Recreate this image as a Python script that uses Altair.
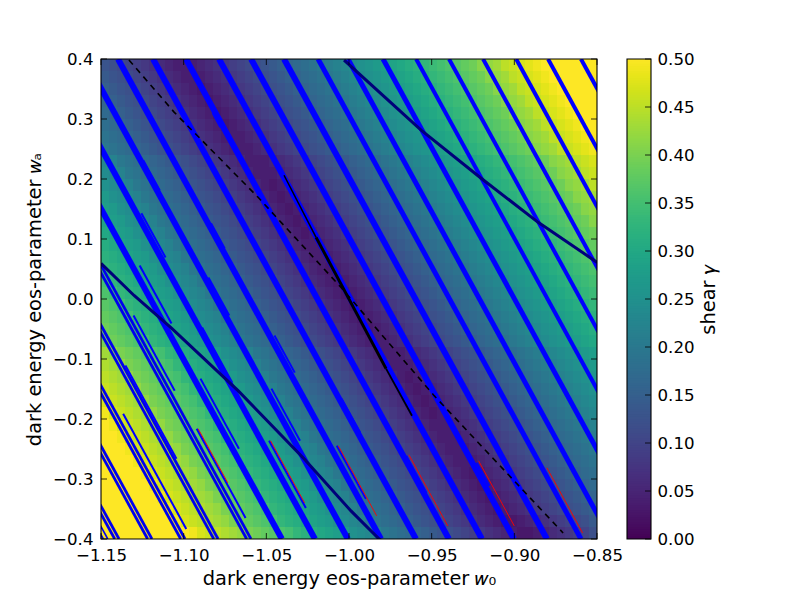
import altair as alt
import numpy as np
import pandas as pd

# shear in hundredths, top row (wa = 0.4) first
shear_rows = [
[13,12,11,10,9,8,7,6,5,4,4,4,5,6,7,8,9,10,11,12,13,14,15,16,17,18,19,20,21,22,23,24,25,26,27,28,29,30,31,32,33,34,35,36,37,38,39,41,42,43,45,46,47,48,49,50,51,52,53,54,55,56],
[14,13,12,11,10,9,8,7,6,5,4,4,4,5,6,7,8,9,10,11,12,13,14,15,16,17,18,19,20,21,22,23,24,25,26,27,28,29,30,31,32,33,34,35,36,37,38,39,41,42,43,45,46,47,48,49,50,51,52,53,54,55],
[15,14,13,12,11,10,9,8,7,6,5,4,3,4,5,6,7,8,9,10,11,12,13,14,15,16,17,18,19,20,21,22,23,24,25,26,27,28,29,30,31,32,33,34,35,36,37,38,39,41,42,43,45,46,47,48,49,50,51,52,53,54],
[16,15,14,13,12,11,10,9,8,7,6,5,4,3,4,5,6,7,8,9,10,11,12,13,14,15,16,17,18,19,20,21,22,23,24,25,26,27,28,29,30,31,32,33,34,35,36,37,38,39,41,42,43,45,46,47,48,49,50,51,52,53],
[17,16,15,14,13,12,11,10,9,8,7,6,5,4,3,4,5,6,7,8,9,10,11,12,13,14,15,16,17,18,19,20,21,22,23,24,25,26,27,28,29,30,31,32,33,34,35,36,37,38,39,41,42,43,45,46,47,48,49,50,51,52],
[18,17,16,15,14,13,12,11,10,9,8,7,6,5,4,3,4,5,6,7,8,9,10,11,12,13,14,15,16,17,18,19,20,21,22,23,24,25,26,27,28,29,30,31,32,33,34,35,36,37,38,39,41,42,43,45,46,47,48,49,50,51],
[19,18,17,16,15,14,13,12,11,10,9,8,7,6,5,4,4,4,5,6,7,8,9,10,11,12,13,14,15,16,17,18,19,20,21,22,23,24,25,26,27,28,29,30,31,32,33,34,35,36,37,38,39,41,42,43,45,46,47,48,49,50],
[20,19,18,17,16,15,14,13,12,11,10,9,8,7,6,5,4,4,4,5,6,7,8,9,10,11,12,13,14,15,16,17,18,19,20,21,22,23,24,25,26,27,28,29,30,31,32,33,34,35,36,37,38,39,41,42,43,45,46,47,48,49],
[23,22,20,19,18,17,16,15,14,13,12,11,10,9,8,7,6,5,4,4,4,5,6,7,8,9,10,11,12,13,14,15,16,17,18,19,20,21,22,23,24,25,26,27,28,29,30,31,32,33,34,35,36,37,38,39,41,42,43,45,46,47],
[24,23,22,20,19,18,17,16,15,14,13,12,11,10,9,8,7,6,5,4,4,4,5,6,7,8,9,10,11,12,13,14,15,16,17,18,19,20,21,22,23,24,25,26,27,28,29,30,31,32,33,34,35,36,37,38,39,41,42,43,45,46],
[25,24,23,22,20,19,18,17,16,15,14,13,12,11,10,9,8,7,6,5,4,3,4,5,6,7,8,9,10,11,12,13,14,15,16,17,18,19,20,21,22,23,24,25,26,27,28,29,30,31,32,33,34,35,36,37,38,39,41,42,43,45],
[27,25,24,23,22,20,19,18,17,16,15,14,13,12,11,10,9,8,7,6,5,4,3,4,5,6,7,8,9,10,11,12,13,14,15,16,17,18,19,20,21,22,23,24,25,26,27,28,29,30,31,32,33,34,35,36,37,38,39,41,42,43],
[28,27,25,24,23,22,20,19,18,17,16,15,14,13,12,11,10,9,8,7,6,5,4,3,4,5,6,7,8,9,10,11,12,13,14,15,16,17,18,19,20,21,22,23,24,25,26,27,28,29,30,31,32,33,34,35,36,37,38,39,41,42],
[29,28,27,25,24,23,22,20,19,18,17,16,15,14,13,12,11,10,9,8,7,6,5,4,3,4,5,6,7,8,9,10,11,12,13,14,15,16,17,18,19,20,21,22,23,24,25,26,27,28,29,30,31,32,33,34,35,36,37,38,39,41],
[30,29,28,27,25,24,23,22,20,19,18,17,16,15,14,13,12,11,10,9,8,7,6,5,4,3,4,5,6,7,8,9,10,11,12,13,14,15,16,17,18,19,20,21,22,23,24,25,26,27,28,29,30,31,32,33,34,35,36,37,38,39],
[31,30,29,28,27,25,24,23,22,20,19,18,17,16,15,14,13,12,11,10,9,8,7,6,5,4,4,4,5,6,7,8,9,10,11,12,13,14,15,16,17,18,19,20,21,22,23,24,25,26,27,28,29,30,31,32,33,34,35,36,37,38],
[32,31,30,29,28,27,25,24,23,22,20,19,18,17,16,15,14,13,12,11,10,9,8,7,6,5,4,4,4,5,6,7,8,9,10,11,12,13,14,15,16,17,18,19,20,21,22,23,24,25,26,27,28,29,30,31,32,33,34,35,36,37],
[33,32,31,30,29,28,27,25,24,23,22,20,19,18,17,16,15,14,13,12,11,10,9,8,7,6,5,4,3,4,5,6,7,8,9,10,11,12,13,14,15,16,17,18,19,20,21,22,23,24,25,26,27,28,29,30,31,32,33,34,35,36],
[35,33,32,31,30,29,28,27,25,24,23,22,20,19,18,17,16,15,14,13,12,11,10,9,8,7,6,5,4,3,4,5,6,7,8,9,10,11,12,13,14,15,16,17,18,19,20,21,22,23,24,25,26,27,28,29,30,31,32,33,34,35],
[36,35,33,32,31,30,29,28,27,25,24,23,22,20,19,18,17,16,15,14,13,12,11,10,9,8,7,6,5,4,3,4,5,6,7,8,9,10,11,12,13,14,15,16,17,18,19,20,21,22,23,24,25,26,27,28,29,30,31,32,33,34],
[37,36,35,33,32,31,30,29,28,27,25,24,23,22,20,19,18,17,16,15,14,13,12,11,10,9,8,7,6,5,4,3,4,5,6,7,8,9,10,11,12,13,14,15,16,17,18,19,20,21,22,23,24,25,26,27,28,29,30,31,32,33],
[38,37,36,35,33,32,31,30,29,28,27,25,24,23,22,20,19,18,17,16,15,14,13,12,11,10,9,8,7,6,5,4,3,4,5,6,7,8,9,10,11,12,13,14,15,16,17,18,19,20,21,22,23,24,25,26,27,28,29,30,31,32],
[39,38,37,36,35,33,32,31,30,29,28,27,25,24,23,22,20,19,18,17,16,15,14,13,12,11,10,9,8,7,6,5,4,3,4,5,6,7,8,9,10,11,12,13,14,15,16,17,18,19,20,21,22,23,24,25,26,27,28,29,30,31],
[40,39,38,37,36,35,33,32,31,30,29,28,27,25,24,23,22,20,19,18,17,16,15,14,13,12,11,10,9,8,7,6,5,4,4,4,5,6,7,8,9,10,11,12,13,14,15,16,17,18,19,20,21,22,23,24,25,26,27,28,29,30],
[43,42,40,39,38,37,36,35,33,32,31,30,29,28,27,25,24,23,22,20,19,18,17,16,15,14,13,12,11,10,9,8,7,6,5,4,4,4,5,6,7,8,9,10,11,12,13,14,15,16,17,18,19,20,21,22,23,24,25,26,27,28],
[44,43,42,40,39,38,37,36,35,33,32,31,30,29,28,27,25,24,23,22,20,19,18,17,16,15,14,13,12,11,10,9,8,7,6,5,4,4,4,5,6,7,8,9,10,11,12,13,14,15,16,17,18,19,20,21,22,23,24,25,26,27],
[45,44,43,42,40,39,38,37,36,35,33,32,31,30,29,28,27,25,24,23,22,20,19,18,17,16,15,14,13,12,11,10,9,8,7,6,5,4,3,4,5,6,7,8,9,10,11,12,13,14,15,16,17,18,19,20,21,22,23,24,25,26],
[46,45,44,43,42,40,39,38,37,36,35,33,32,31,30,29,28,27,25,24,23,22,20,19,18,17,16,15,14,13,12,11,10,9,8,7,6,5,4,3,4,5,6,7,8,9,10,11,12,13,14,15,16,17,18,19,20,21,22,23,24,25],
[47,46,45,44,43,42,40,39,38,37,36,35,33,32,31,30,29,28,27,25,24,23,22,20,19,18,17,16,15,14,13,12,11,10,9,8,7,6,5,4,3,4,5,6,7,8,9,10,11,12,13,14,15,16,17,18,19,20,21,22,23,24],
[49,47,46,45,44,43,42,40,39,38,37,36,35,33,32,31,30,29,28,27,25,24,23,22,20,19,18,17,16,15,14,13,12,11,10,9,8,7,6,5,4,3,4,5,6,7,8,9,10,11,12,13,14,15,16,17,18,19,20,21,22,23],
[50,49,47,46,45,44,43,42,40,39,38,37,36,35,33,32,31,30,29,28,27,25,24,23,22,20,19,18,17,16,15,14,13,12,11,10,9,8,7,6,5,4,4,4,5,6,7,8,9,10,11,12,13,14,15,16,17,18,19,20,21,22],
[51,50,49,47,46,45,44,43,42,40,39,38,37,36,35,33,32,31,30,29,28,27,25,24,23,22,20,19,18,17,16,15,14,13,12,11,10,9,8,7,6,5,4,4,4,5,6,7,8,9,10,11,12,13,14,15,16,17,18,19,20,21],
[52,51,50,49,47,46,45,44,43,42,40,39,38,37,36,35,33,32,31,30,29,28,27,25,24,23,22,20,19,18,17,16,15,14,13,12,11,10,9,8,7,6,5,4,4,4,5,6,7,8,9,10,11,12,13,14,15,16,17,18,19,20],
[53,52,51,50,49,47,46,45,44,43,42,40,39,38,37,36,35,33,32,31,30,29,28,27,25,24,23,22,20,19,18,17,16,15,14,13,12,11,10,9,8,7,6,5,4,4,4,5,6,7,8,9,10,11,12,13,14,15,16,17,18,19],
[54,53,52,51,50,49,47,46,45,44,43,42,40,39,38,37,36,35,33,32,31,30,29,28,27,25,24,23,22,20,19,18,17,16,15,14,13,12,11,10,9,8,7,6,5,4,3,4,5,6,7,8,9,10,11,12,13,14,15,16,17,18],
[56,54,53,52,51,50,49,47,46,45,44,43,42,40,39,38,37,36,35,33,32,31,30,29,28,27,25,24,23,22,20,19,18,17,16,15,14,13,12,11,10,9,8,7,6,5,4,3,4,5,6,7,8,9,10,11,12,13,14,15,16,17],
[57,56,54,53,52,51,50,49,47,46,45,44,43,42,40,39,38,37,36,35,33,32,31,30,29,28,27,25,24,23,22,20,19,18,17,16,15,14,13,12,11,10,9,8,7,6,5,4,3,4,5,6,7,8,9,10,11,12,13,14,15,16],
[58,57,56,54,53,52,51,50,49,47,46,45,44,43,42,40,39,38,37,36,35,33,32,31,30,29,28,27,25,24,23,22,20,19,18,17,16,15,14,13,12,11,10,9,8,7,6,5,4,3,4,5,6,7,8,9,10,11,12,13,14,15],
[59,58,57,56,54,53,52,51,50,49,47,46,45,44,43,42,40,39,38,37,36,35,33,32,31,30,29,28,27,25,24,23,22,20,19,18,17,16,15,14,13,12,11,10,9,8,7,6,5,4,3,3,4,5,6,7,8,9,10,11,12,14],
[61,60,59,58,57,56,54,53,52,51,50,49,47,46,45,44,43,42,40,39,38,37,36,35,33,32,31,30,29,28,27,25,24,23,22,20,19,18,17,16,15,14,13,12,11,10,9,8,7,6,5,4,3,3,4,5,6,7,8,9,10,12],
]

# blue contours: w0 where each one meets wa = 0.4, grouped by how heavy it looks
blue_right = [-0.8597, -0.8796, -0.8989, -0.9189, -0.9395, -0.9594]
blue_middle = [-0.9794, -1.0006, -1.0187]
blue_heavy = [-1.0393, -1.0592, -1.0786, -1.0986, -1.1185, -1.1397, -1.1597, -1.1796, -1.1996]
blue_double = [-1.2183, -1.2209, -1.2382, -1.2408, -1.2582, -1.2608, -1.2782, -1.2808, -1.2981, -1.3007]
blue_corner = [-1.3049, -1.3076]
blue_run = 0.159  # w0 travelled from wa = 0.4 to wa = -0.4

# short thin side strands: contour they follow (w0 at wa = 0.4), then where they start and stop in wa
strand_top = [-1.2153, -1.2368, -1.2541, -1.1950, -1.1778, -1.1957, -1.2146, -1.1574, -1.1367, -1.1561, -1.1748,
              -1.1355, -1.1170, -1.0986, -1.0968, -1.0592, -1.0565, -1.1387, -1.1580, -1.1767, -1.1004, -1.1179,
              -1.1379]
strand_wa_a = [-0.0275, -0.1110, -0.1912, 0.0560, -0.0476, -0.1327, -0.2162, 0.0359, -0.0609, -0.1494, -0.2363,
               -0.2446, -0.1661, -0.0726, -0.2613, -0.0893, -0.2730, 0.3198, 0.2313, 0.1428, 0.3098, 0.2196, 0.1261]
strand_wa_b = [-0.1528, -0.2663, -0.3832, -0.0409, -0.1394, -0.2496, -0.3649, -0.0275, -0.1227, -0.2363, -0.3482,
               -0.3331, -0.2229, -0.1110, -0.3231, -0.1110, -0.3114, 0.2931, 0.1812, 0.0693, 0.2864, 0.1929, 0.0844]

# thin red pieces, same layout
red_top = [-1.2137, -1.1739, -1.1346, -1.0949, -1.0547, -1.0157]
red_wa_a = [-0.2162, -0.2363, -0.2446, -0.2597, -0.2697, -0.2814]
red_wa_b = [-0.3064, -0.3398, -0.3615, -0.3782, -0.3782, -0.3899]

# navy curves
navy_upper_w0 = [-1.0030, -0.9564, -0.9201, -0.8856, -0.8499]
navy_upper_wa = [0.3983, 0.2814, 0.2013, 0.1278, 0.0610]
navy_lower_w0 = [-1.15, -1.1300, -1.1077, -1.0671, -1.0272, -0.9988, -0.9806]
navy_lower_wa = [0.0593, 0.0059, -0.0476, -0.1528, -0.2663, -0.3532, -0.4033]

# black solid piece, thin at both ends
black_top_w0 = [-1.0393, -1.0199]
black_top_wa = [0.2063, 0.1027]
black_mid_w0 = [-1.0199, -0.9776]
black_mid_wa = [0.1027, -0.1160]
black_end_w0 = [-0.9776, -0.9619]
black_end_wa = [-0.1160, -0.1945]

# black dashed
dash_w0 = [-1.1331, -1.1058, -1.0550, -1.0048, -0.9485, -0.9001, -0.8705]
dash_wa = [0.3983, 0.3115, 0.1695, 0.0192, -0.1611, -0.3031, -0.3899]

w0_ticks = [-1.15, -1.10, -1.05, -1.00, -0.95, -0.90, -0.85]
wa_ticks = [-0.4, -0.3, -0.2, -0.1, 0.0, 0.1, 0.2, 0.3, 0.4]
bar_ticks = [0.00, 0.05, 0.10, 0.15, 0.20, 0.25, 0.30, 0.35, 0.40, 0.45, 0.50]

w0_label = "dark energy eos-parameter 𝑤₀"
wa_label = "dark energy eos-parameter 𝑤ₐ"
bar_label = "shear 𝛾"

W, H = 496, 480
FONT = "DejaVu Sans"

w0_edges = np.linspace(-1.15, -0.85, 63)
wa_edges = np.linspace(0.4, -0.4, 41)
cells = pd.DataFrame(
    [
        # a sliver of overlap so no seams show between neighbours
        {"x": w0_edges[c], "x2": w0_edges[c + 1] + 0.0003, "y": wa_edges[r], "y2": wa_edges[r + 1] - 0.001, "gamma": v / 100}
        for r, row in enumerate(shear_rows)
        for c, v in enumerate(row)
    ]
)


def contours(tops):
    return pd.DataFrame(
        [{"line": i, "w0": t, "wa": 0.4} for i, t in enumerate(tops)]
        + [{"line": i, "w0": t + blue_run, "wa": -0.4} for i, t in enumerate(tops)]
    )


def along(tops, wa_a, wa_b):
    rows = []
    for i, (t, a, b) in enumerate(zip(tops, wa_a, wa_b)):
        rows.append({"line": i, "w0": t + (0.4 - a) * blue_run / 0.8, "wa": a})
        rows.append({"line": i, "w0": t + (0.4 - b) * blue_run / 0.8, "wa": b})
    return pd.DataFrame(rows)


xs = alt.Scale(domain=[-1.15, -0.85], nice=False, zero=False)
ys = alt.Scale(domain=[-0.4, 0.4], nice=False, zero=False)
colours = alt.Scale(scheme="viridis", domain=[0, 0.5], clamp=True)

# the same axis objects go on every layer, so vega-lite merges them into one
x_axis = alt.Axis(title=w0_label, values=w0_ticks, format=".2f", ticks=False, domain=False, grid=False,
                  labelPadding=8, titlePadding=6, labelFlush=False, labelOverlap=False)
y_axis = alt.Axis(title=wa_label, values=wa_ticks, format=".1f", ticks=False, domain=False, grid=False,
                  labelPadding=8, titlePadding=8, labelFlush=False, labelOverlap=False)
bar_axis = alt.Axis(title=bar_label, orient="right", values=bar_ticks, format=".2f", ticks=False, domain=False,
                    grid=False, labelPadding=6, titleX=67, titleY=240, titleAngle=270, labelFlush=False,
                    labelOverlap=False)

heat = (
    alt.Chart(cells)
    .mark_rect(clip=True)
    .encode(
        alt.X("x:Q", scale=xs, axis=x_axis),
        alt.Y("y:Q", scale=ys, axis=y_axis),
        x2="x2:Q",
        y2="y2:Q",
        color=alt.Color("gamma:Q", scale=colours, legend=None),
    )
)


def curve(frame, colour, width, dash=None):
    kw = {"strokeDash": dash} if dash else {}
    return (
        alt.Chart(frame)
        .mark_line(color=colour, strokeWidth=width, clip=True, **kw)
        .encode(
            alt.X("w0:Q", scale=xs, axis=x_axis),
            alt.Y("wa:Q", scale=ys, axis=y_axis),
            detail="line:N",
        )
    )


def ticks_x(y0, y1):
    return (
        alt.Chart(pd.DataFrame({"v": w0_ticks}))
        .mark_rule(color="black", strokeWidth=0.8)
        .encode(alt.X("v:Q", scale=xs, axis=x_axis), y=alt.value(y0), y2=alt.value(y1))
    )


def ticks_y(x0, x1):
    return (
        alt.Chart(pd.DataFrame({"v": wa_ticks}))
        .mark_rule(color="black", strokeWidth=0.8)
        .encode(alt.Y("v:Q", scale=ys, axis=y_axis), x=alt.value(x0), x2=alt.value(x1))
    )


frame = (
    alt.Chart(pd.DataFrame({"v": [0]}))
    .mark_rect(fill=None, stroke="black", strokeWidth=1.1)
    .encode(x=alt.value(0), x2=alt.value(W), y=alt.value(0), y2=alt.value(H))
)

main = alt.layer(
    heat,
    curve(contours(blue_right), "#0000ff", 4),
    curve(contours(blue_middle), "#0000ff", 5),
    curve(contours(blue_heavy), "#0000ff", 6),
    curve(contours(blue_double), "#0000ee", 2.8),
    curve(contours(blue_corner), "#0000ee", 1.6),
    curve(along(strand_top, strand_wa_a, strand_wa_b), "#0000ff", 2),
    curve(along(red_top, red_wa_a, red_wa_b), "#ff0000", 0.9),
    curve(pd.DataFrame({"line": 0, "w0": navy_upper_w0, "wa": navy_upper_wa}), "#00007a", 3),
    curve(pd.DataFrame({"line": 0, "w0": navy_lower_w0, "wa": navy_lower_wa}), "#00007a", 3),
    curve(pd.DataFrame({"line": 0, "w0": black_top_w0, "wa": black_top_wa}), "black", 1.5),
    curve(pd.DataFrame({"line": 0, "w0": black_mid_w0, "wa": black_mid_wa}), "black", 3),
    curve(pd.DataFrame({"line": 0, "w0": black_end_w0, "wa": black_end_wa}), "black", 1.8),
    curve(pd.DataFrame({"line": 0, "w0": dash_w0, "wa": dash_wa}), "black", 1.6, [6, 5]),
    ticks_x(H, H - 6),
    ticks_x(0, 6),
    ticks_y(0, 6),
    ticks_y(W, W - 6),
    frame,
).properties(width=W, height=H)

# colour bar, one thin band per level, bands overlap a little
bar_levels = np.arange(0, 0.5, 0.0025)
bar_frame = pd.DataFrame({"lo": bar_levels, "hi": bar_levels + 0.004, "mid": bar_levels + 0.00125})
bar_scale = alt.Scale(domain=[0, 0.5], nice=False, zero=False)
bar_w = 24

bar = alt.layer(
    alt.Chart(bar_frame)
    .mark_rect(clip=True)
    .encode(
        alt.Y("lo:Q", scale=bar_scale, axis=bar_axis),
        y2="hi:Q",
        x=alt.value(0),
        x2=alt.value(bar_w),
        color=alt.Color("mid:Q", scale=colours, legend=None),
    ),
    alt.Chart(pd.DataFrame({"v": bar_ticks}))
    .mark_rule(color="black", strokeWidth=0.8)
    .encode(alt.Y("v:Q", scale=bar_scale, axis=bar_axis), x=alt.value(bar_w - 6), x2=alt.value(bar_w)),
    alt.Chart(pd.DataFrame({"v": [0]}))
    .mark_rect(fill=None, stroke="black", strokeWidth=1.1)
    .encode(x=alt.value(0), x2=alt.value(bar_w), y=alt.value(0), y2=alt.value(H)),
).properties(width=bar_w, height=H)

chart = (
    alt.hconcat(main, bar, spacing=30, bounds="flush")
    .properties(padding={"left": 16, "top": 43, "right": 5, "bottom": 5})
    .configure_view(stroke=None)
    .configure_axis(
        labelFont=FONT, titleFont=FONT, labelFontSize=16.67, titleFontSize=19.4, labelColor="black", titleColor="black",
        titleFontWeight="normal",
    )
)

chart.save("out.html", embed_options={"renderer": "svg", "actions": False})
